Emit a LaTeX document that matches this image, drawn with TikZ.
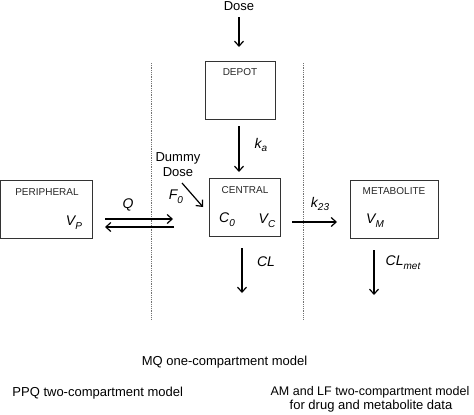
\documentclass[tikz,border=0pt]{standalone}
\usepackage{fontspec}
\setmainfont{Liberation Sans}
\usetikzlibrary{arrows.meta}
\newcommand\lsub[1]{\raisebox{-0.5ex}{\fontsize{10}{10}\selectfont #1}}
\begin{document}
\begin{tikzpicture}[x=1pt,y=-1pt,
  box/.style={draw=black!80,line width=0.9pt,minimum height=58pt,inner sep=0pt},
  ttl/.style={font=\fontsize{10}{12}\selectfont,text=black!85,inner sep=0pt},
  lbl/.style={font=\fontsize{14}{16}\selectfont\itshape,inner sep=0pt},
  txt/.style={font=\fontsize{13}{15}\selectfont,inner sep=0pt},
  flow/.style={line width=1.2pt,-{Straight Barb[length=5pt,width=9pt,line width=1.2pt]}},
  sep/.style={draw=black!55,line width=0.9pt,dash pattern=on 1pt off 0.8pt}]
\useasboundingbox (0,0) rectangle (474,415);
% boxes
\node[box,minimum width=70pt] (depot) at (240,90) {};
\node[box,minimum width=71pt] (central) at (244.5,207) {};
\node[box,minimum width=91.5pt] (periph) at (46.25,209) {};
\node[box,minimum width=88pt] (metab) at (394,209) {};
% box titles
\node[ttl] (tdepot) at (240,72) {DEPOT};
\node[ttl] (tcentral) at (245,190) {CENTRAL};
\node[ttl] (tperiph) at (47,192) {PERIPHERAL};
\node[ttl] (tmetab) at (394,191) {METABOLITE};
% labels in boxes
\node[lbl] (vp) at (74,223) {V\lsub{P}};
\node[lbl] (c0) at (227,220) {C\lsub{0}};
\node[lbl] (vc) at (267,221) {V\lsub{C}};
\node[lbl] (vm) at (375,221) {V\lsub{M}};
% dose
\node[txt] (dose) at (239,6) {Dose};
\node[txt,align=center,font=\fontsize{13}{15}\selectfont] (dummy) at (178,165) {Dummy\\Dose};
% arrow labels
\node[lbl] (q) at (128,205) {Q};
\node[lbl] (ka) at (261,145) {k\lsub{a}};
\node[lbl] (f0) at (176,197) {F\lsub{0}};
\node[lbl] (k23) at (320,204) {k\lsub{23}};
\node[lbl] (cl) at (266,262) {CL};
\node[lbl] (clmet) at (403,263) {CL\lsub{met}};
% arrow end points
\coordinate (d1) at (239,17); \coordinate (d2) at (239,47);
\coordinate (a1) at (239,126); \coordinate (a2) at (239,172);
\coordinate (f1) at (182,183); \coordinate (f2) at (203,207);
\coordinate (q1) at (105,219); \coordinate (q2) at (173,219);
\coordinate (q3) at (174,227); \coordinate (q4) at (105,227);
\coordinate (k1) at (292,222); \coordinate (k2) at (337,222);
\coordinate (c1) at (242,248); \coordinate (c2) at (242,293);
\coordinate (m1) at (374,250); \coordinate (m2) at (374,295);
\coordinate (s1) at (151,63); \coordinate (s2) at (151,320);
\coordinate (s3) at (303,63); \coordinate (s4) at (303,319);
% separators
\draw[sep] (s1) -- (s2);
\draw[sep] (s3) -- (s4);
% arrows
\draw[flow] (d1) -- (d2);
\draw[flow] (a1) -- (a2);
\draw[flow] (f1) -- (f2);
\draw[flow] (q1) -- (q2);
\draw[flow] (q3) -- (q4);
\draw[flow] (k1) -- (k2);
\draw[flow] (c1) -- (c2);
\draw[flow] (m1) -- (m2);
% captions
\node[txt] (mq) at (224.5,362) {MQ one-compartment model};
\node[txt] (ppq) at (97.7,393) {PPQ two-compartment model};
\node[txt,font=\fontsize{12.5}{15}\selectfont] (aml1) at (370,392) {AM and LF two-compartment model};
\node[txt] (aml2) at (371,406) {for drug and metabolite data};
\end{tikzpicture}
\end{document}
